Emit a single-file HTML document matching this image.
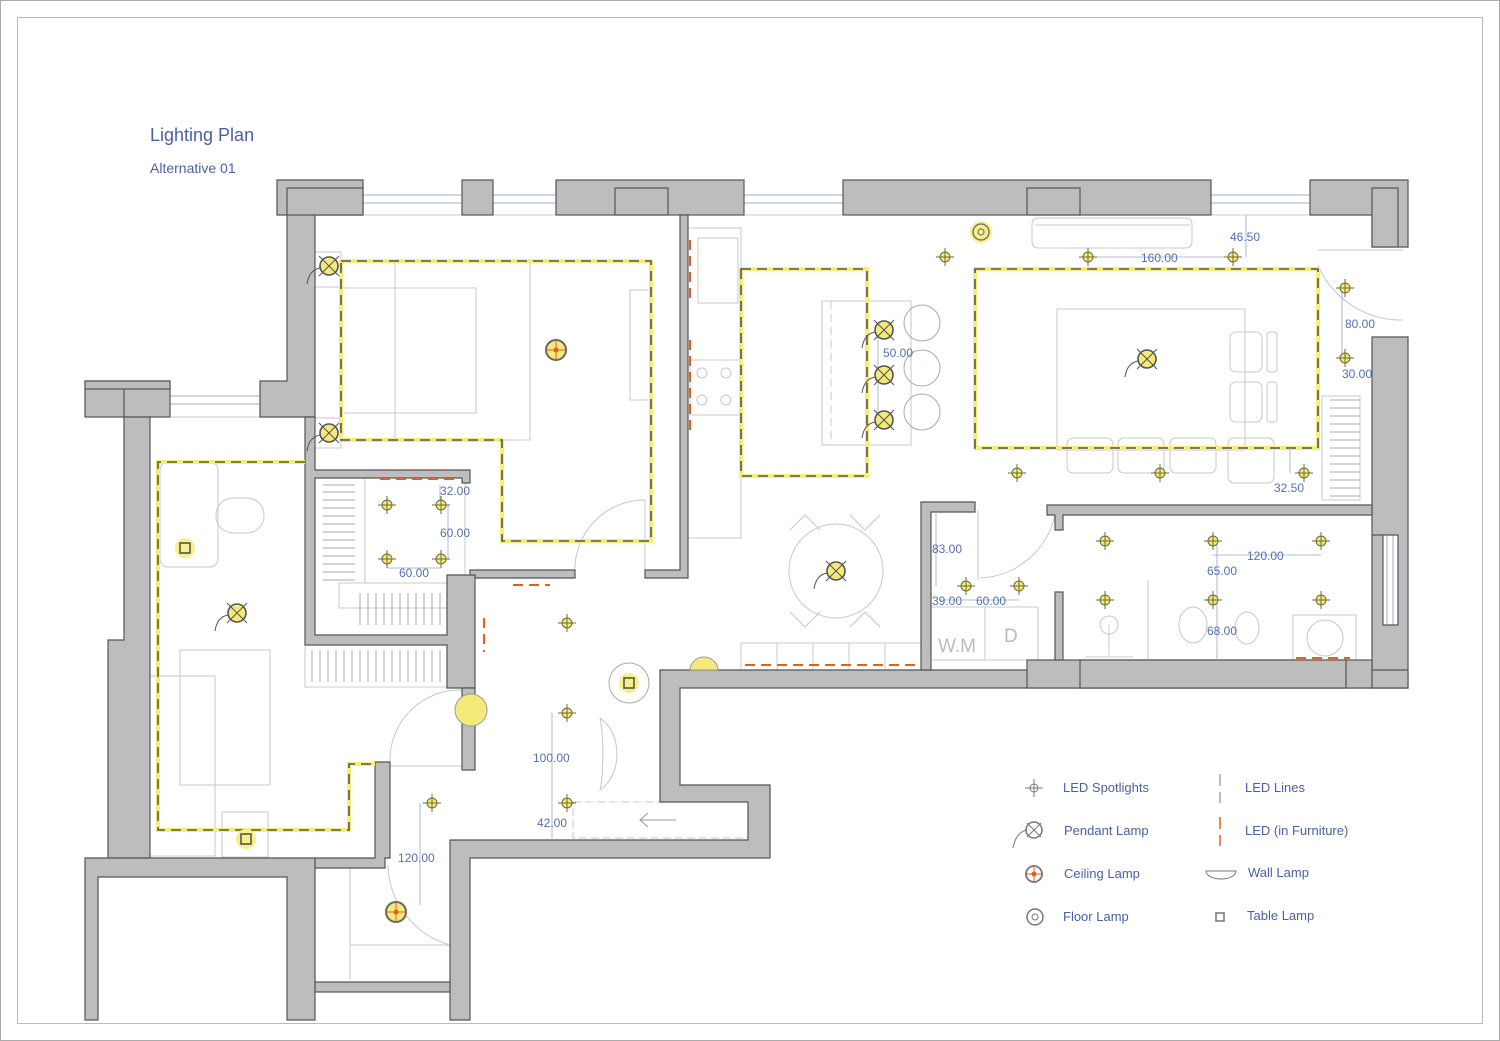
<!DOCTYPE html>
<html><head><meta charset="utf-8"><style>
html,body{margin:0;padding:0;background:#fff;}
svg{display:block;}
text{font-family:"Liberation Sans",Arial,sans-serif;}
</style></head><body>
<svg width="1500" height="1041" viewBox="0 0 1500 1041" xmlns="http://www.w3.org/2000/svg">
<defs>
<g id="spot"><circle r="5" fill="#f3ea7a" stroke="#6b6b3a" stroke-width="1"/><line x1="-9" y1="0" x2="9" y2="0" stroke="#6b6b3a" stroke-width="1"/><line x1="0" y1="-9" x2="0" y2="9" stroke="#6b6b3a" stroke-width="1"/></g>
<g id="pend"><circle r="9" fill="#f3ea7a" stroke="#555" stroke-width="1.6"/><line x1="-10" y1="-10" x2="10" y2="10" stroke="#555" stroke-width="1"/><line x1="10" y1="-10" x2="-10" y2="10" stroke="#555" stroke-width="1"/><path d="M-9,2 Q-20,4 -22,18" fill="none" stroke="#555" stroke-width="1"/></g>
<g id="ceil"><circle r="10" fill="#f3ea7a" stroke="#666" stroke-width="2"/><line x1="-10" y1="0" x2="10" y2="0" stroke="#e06020" stroke-width="1"/><line x1="0" y1="-10" x2="0" y2="10" stroke="#e06020" stroke-width="1"/><circle r="2.5" fill="#e06020"/></g>
<g id="tlamp"><circle r="10" fill="#f6ef8a"/><rect x="-5" y="-5" width="10" height="10" fill="none" stroke="#555" stroke-width="1.6"/></g>
</defs>
<rect x="0.5" y="0.5" width="1499" height="1040" fill="#fff" stroke="#aaa"/>
<rect x="17.5" y="17.5" width="1465" height="1006" fill="none" stroke="#bbb"/>

<text x="150" y="141" font-size="18" fill="#4a5fa8">Lighting Plan</text>
<text x="150" y="173" font-size="14" fill="#4a5fa8">Alternative 01</text>

<!-- windows -->
<g stroke="#9bb0cc" stroke-width="1" fill="none">
<line x1="363" y1="195" x2="462" y2="195"/><line x1="363" y1="203" x2="462" y2="203"/>
<line x1="493" y1="195" x2="556" y2="195"/><line x1="493" y1="203" x2="556" y2="203"/>
<line x1="744" y1="195" x2="843" y2="195"/><line x1="744" y1="203" x2="843" y2="203"/>
<line x1="1211" y1="195" x2="1310" y2="195"/><line x1="1211" y1="203" x2="1310" y2="203"/>
<line x1="170" y1="396" x2="260" y2="396"/><line x1="170" y1="404" x2="260" y2="404"/>
<line x1="1387" y1="535" x2="1387" y2="625"/><line x1="1393" y1="535" x2="1393" y2="625"/>
</g>
<g stroke="#ccc" stroke-width="1" fill="none">
<line x1="363" y1="215" x2="556" y2="215"/><line x1="744" y1="215" x2="843" y2="215"/><line x1="1211" y1="215" x2="1310" y2="215"/>
<line x1="170" y1="417" x2="260" y2="417"/>
</g>

<!-- furniture (light gray) -->
<g stroke="#c8c8c8" stroke-width="1" fill="none">
<rect x="341" y="261" width="189" height="179"/><rect x="341" y="288" width="135" height="125"/><line x1="395" y1="261" x2="395" y2="440"/>
<rect x="630" y="290" width="20" height="110"/>
<rect x="315" y="252" width="26" height="35"/><rect x="315" y="418" width="26" height="30"/>
<rect x="698" y="238" width="40" height="65"/><rect x="690" y="360" width="50" height="55"/>
<circle cx="702" cy="373" r="5"/><circle cx="726" cy="373" r="5"/><circle cx="702" cy="400" r="5"/><circle cx="726" cy="400" r="5"/>
<line x1="688" y1="215" x2="740" y2="215"/><rect x="688" y="228" width="53" height="310"/>
<rect x="822" y="301" width="89" height="144"/><line x1="831" y1="301" x2="831" y2="445" stroke-dasharray="8,5"/>
<circle cx="922" cy="323" r="18" stroke="#aaa"/><circle cx="922" cy="368" r="18" stroke="#aaa"/><circle cx="922" cy="412" r="18" stroke="#aaa"/>
<rect x="1057" y="309" width="188" height="141"/>
<rect x="1230" y="332" width="32" height="40" rx="6"/><rect x="1230" y="382" width="32" height="40" rx="6"/><rect x="1267" y="332" width="10" height="40" rx="3"/><rect x="1267" y="382" width="10" height="40" rx="3"/>
<rect x="1067" y="438" width="46" height="35" rx="6"/><rect x="1118" y="438" width="46" height="35" rx="6"/><rect x="1170" y="438" width="46" height="35" rx="6"/><rect x="1228" y="438" width="46" height="45" rx="6"/>
<rect x="1032" y="218" width="160" height="30" rx="6"/><line x1="1035" y1="225" x2="1190" y2="225"/>
<circle cx="836" cy="571" r="47"/>
<path d="M790,530 l15,-15 l15,15 M850,515 l15,15 l15,-15 M790,612 l15,15 l15,-15 M850,627 l15,-15 l15,15"/>
<rect x="741" y="643" width="180" height="27"/><line x1="777" y1="643" x2="777" y2="670"/><line x1="813" y1="643" x2="813" y2="670"/><line x1="849" y1="643" x2="849" y2="670"/><line x1="885" y1="643" x2="885" y2="670"/>
<rect x="931" y="607" width="54" height="53"/><rect x="985" y="607" width="53" height="53"/>
<rect x="1293" y="615" width="63" height="45"/><circle cx="1325" cy="638" r="18"/>
<ellipse cx="1193" cy="625" rx="14" ry="18"/><ellipse cx="1247" cy="628" rx="12" ry="16"/><line x1="1148" y1="580" x2="1148" y2="660"/>
<circle cx="1109" cy="625" r="9"/><line x1="1109" y1="625" x2="1109" y2="655"/><line x1="1085" y1="657" x2="1133" y2="657"/>
<rect x="216" y="498" width="48" height="35" rx="17"/>
<rect x="160" y="462" width="58" height="105" rx="8"/>
<rect x="180" y="650" width="90" height="135"/><rect x="133" y="676" width="82" height="180"/>
<rect x="222" y="812" width="46" height="45"/>
<rect x="365" y="478" width="100" height="105"/>
<rect x="305" y="643" width="142" height="44"/>
<rect x="339" y="583" width="126" height="25"/>
<path d="M600,718 a30,40 0 0 1 0,72 a 5,40 0 0 0 0,-72"/>
<circle cx="629" cy="683" r="20" stroke="#aaa"/>
<rect x="573" y="802" width="175" height="36" stroke-dasharray="8,4"/>
<line x1="640" y1="820" x2="676" y2="820" stroke="#999"/><path d="M648,813 l-8,7 l8,7" stroke="#999"/>
<line x1="350" y1="868" x2="350" y2="980"/><line x1="350" y1="945" x2="450" y2="945"/>
<path d="M575,575 a70,70 0 0 1 70,-75 M645,500 l0,75" />
<path d="M462,690 a70,70 0 0 0 -72,72 M390,766 l72,0"/>
<path d="M450,945 a85,85 0 0 1 -62,-80"/>
<path d="M1055,515 a80,80 0 0 1 -75,63 M978,510 l0,70" />
<path d="M1318,265 a90,90 0 0 0 85,55 M1318,250 l85,0" />
<rect x="1322" y="396" width="38" height="104"/>
</g>
<!-- wardrobe hatches -->
<g stroke="#aaa" stroke-width="1" fill="none">
<path d="M323,485h32M323,492h32M323,500h32M323,508h32M323,516h32M323,524h32M323,532h32M323,540h32M323,548h32M323,556h32M323,564h32M323,572h32M323,580h32"/>
<path d="M360,593v32M368,593v32M376,593v32M384,593v32M392,593v32M400,593v32M408,593v32M416,593v32M424,593v32M432,593v32M440,593v32M448,593v32M456,593v32"/>
<path d="M312,650v32M320,650v32M328,650v32M336,650v32M344,650v32M352,650v32M360,650v32M368,650v32M376,650v32M384,650v32M392,650v32M400,650v32M408,650v32M416,650v32M424,650v32M432,650v32M440,650v32"/>
<path d="M1330,400h30M1330,408h30M1330,416h30M1330,424h30M1330,432h30M1330,440h30M1330,448h30M1330,456h30M1330,464h30M1330,472h30M1330,480h30M1330,488h30M1330,496h30"/>
</g>

<!-- walls -->
<g fill="#bdbdbd" stroke="#555" stroke-width="1.2">
<path d="M277,180H363V215H315V417H260V381H287V215H277Z"/>
<rect x="287" y="188" width="76" height="27"/>
<rect x="462" y="180" width="31" height="35"/>
<rect x="556" y="180" width="188" height="35"/><rect x="615" y="188" width="53" height="27"/>
<rect x="843" y="180" width="368" height="35"/><rect x="1027" y="188" width="53" height="27"/>
<path d="M1310,180H1408V247H1372V215H1310Z"/><rect x="1372" y="188" width="26" height="59"/>
<path d="M1372,337H1408V688H1372V535H1383V625H1398V535H1372Z"/>
<rect x="85" y="381" width="85" height="36"/><rect x="85" y="381" width="85" height="8"/><line x1="124" y1="389" x2="124" y2="417"/>
<path d="M124,417H150V858H108V640H124Z"/>
<path d="M85,858H315V1020H287V877H98V1020H85Z"/>
<path d="M305,417H315V470H470V483H462V478H315V635H447V575H475V688H447V645H305Z"/>
<path d="M470,570H575V578H475V575H470Z"/>
<path d="M680,215H688V578H645V570H680Z"/>
<path d="M462,688H475V770H462Z"/>
<path d="M375,762H390V858H385V868H315V858H375Z"/>
<path d="M660,670H1408V688H680V785H770V858H470V1020H450V840H748V802H660Z"/>
<path d="M921,502H975V512H931V670H921Z"/>
<path d="M1047,505H1372V515H1063V530H1055V515H1047Z"/>
<rect x="1027" y="660" width="345" height="28"/><rect x="1080" y="660" width="266" height="28"/>
<rect x="1055" y="592" width="8" height="68"/>
<rect x="315" y="982" width="135" height="10"/>
</g>

<!-- LED lines in furniture -->
<g stroke="#e06020" stroke-width="2" stroke-dasharray="10,6" fill="none">
<line x1="380" y1="479" x2="455" y2="479"/>
<line x1="690" y1="240" x2="690" y2="300"/><line x1="690" y1="340" x2="690" y2="430"/>
<line x1="513" y1="585" x2="550" y2="585"/>
<line x1="484" y1="618" x2="484" y2="652"/>
<line x1="745" y1="665" x2="915" y2="665"/>
<line x1="1296" y1="658" x2="1350" y2="658"/>
</g>

<!-- LED dashed boxes -->
<g fill="none">
<g stroke="#f5ee70" stroke-width="4">
<path d="M341,261H651V541H502V440H341Z"/>
<rect x="741" y="269" width="126" height="207"/>
<rect x="975" y="269" width="343" height="179"/>
<path d="M305,462H158V830H349V764H375"/>
</g>
<g stroke="#555" stroke-width="1.6" stroke-dasharray="10,6">
<path d="M341,261H651V541H502V440H341Z"/>
<rect x="741" y="269" width="126" height="207"/>
<rect x="975" y="269" width="343" height="179"/>
<path d="M305,462H158V830H349V764H375"/>
</g>
</g>

<!-- dimension lines -->
<g stroke="#9aa6c8" stroke-width="0.8" fill="none">
<line x1="1088" y1="257" x2="1233" y2="257"/><line x1="1246" y1="215" x2="1246" y2="257"/>
<line x1="1342" y1="288" x2="1342" y2="358"/><line x1="1290" y1="448" x2="1290" y2="473"/>
<line x1="878" y1="330" x2="878" y2="420"/>
<line x1="440" y1="485" x2="440" y2="505"/><line x1="448" y1="505" x2="448" y2="559"/><line x1="387" y1="568" x2="441" y2="568"/>
<line x1="936" y1="512" x2="936" y2="586"/><line x1="940" y1="600" x2="1019" y2="600"/>
<line x1="1213" y1="555" x2="1321" y2="555"/><line x1="1217" y1="541" x2="1217" y2="660"/>
<line x1="552" y1="713" x2="552" y2="803"/><line x1="552" y1="803" x2="552" y2="840"/>
<line x1="420" y1="803" x2="420" y2="905"/>
</g>

<!-- dimension labels -->
<g font-size="12" fill="#5470b0">
<text x="1230" y="241">46.50</text><text x="1141" y="262">160.00</text>
<text x="1345" y="328">80.00</text><text x="1342" y="378">30.00</text><text x="1274" y="492">32.50</text>
<text x="883" y="357">50.00</text>
<text x="440" y="495">32.00</text><text x="440" y="537">60.00</text><text x="399" y="577">60.00</text>
<text x="932" y="553">83.00</text><text x="932" y="605">39.00</text><text x="976" y="605">60.00</text>
<text x="1247" y="560">120.00</text><text x="1207" y="575">65.00</text><text x="1207" y="635">68.00</text>
<text x="533" y="762">100.00</text><text x="537" y="827">42.00</text><text x="398" y="862">120.00</text>
</g>
<text x="938" y="652" font-size="19" fill="#bbb">W.M</text>
<text x="1004" y="642" font-size="19" fill="#bbb">D</text>

<!-- lamps -->
<use href="#pend" x="329" y="266"/><use href="#pend" x="329" y="433"/><use href="#pend" x="237" y="613"/>
<use href="#pend" x="884" y="330"/><use href="#pend" x="884" y="375"/><use href="#pend" x="884" y="420"/>
<use href="#pend" x="1147" y="359"/><use href="#pend" x="836" y="571"/>
<use href="#ceil" x="556" y="350"/><use href="#ceil" x="396" y="912"/>
<circle cx="981" cy="232" r="11" fill="#f6ef8a"/><circle cx="981" cy="232" r="8" fill="none" stroke="#777" stroke-width="1.5"/><circle cx="981" cy="232" r="3" fill="none" stroke="#777" stroke-width="1.2"/>
<use href="#tlamp" x="185" y="548"/><use href="#tlamp" x="246" y="839"/><use href="#tlamp" x="629" y="683"/>
<path d="M690,670 a14,13 0 0 1 28,0Z" fill="#f3ea7a" stroke="#999"/>
<circle cx="471" cy="710" r="16" fill="#f3ea7a" stroke="#999"/>
<g>
<use href="#spot" x="945" y="257"/><use href="#spot" x="1088" y="257"/><use href="#spot" x="1233" y="257"/>
<use href="#spot" x="1345" y="288"/><use href="#spot" x="1345" y="358"/>
<use href="#spot" x="1017" y="473"/><use href="#spot" x="1160" y="473"/><use href="#spot" x="1304" y="473"/>
<use href="#spot" x="387" y="505"/><use href="#spot" x="441" y="505"/><use href="#spot" x="387" y="559"/><use href="#spot" x="441" y="559"/>
<use href="#spot" x="567" y="623"/><use href="#spot" x="567" y="713"/><use href="#spot" x="567" y="803"/><use href="#spot" x="432" y="803"/>
<use href="#spot" x="1105" y="541"/><use href="#spot" x="1213" y="541"/><use href="#spot" x="1321" y="541"/>
<use href="#spot" x="1105" y="600"/><use href="#spot" x="1213" y="600"/><use href="#spot" x="1321" y="600"/>
<use href="#spot" x="966" y="586"/><use href="#spot" x="1019" y="586"/>
</g>

<!-- legend -->
<g font-size="13" fill="#4a5fa8">
<text x="1063" y="792">LED Spotlights</text>
<text x="1064" y="835">Pendant Lamp</text>
<text x="1064" y="878">Ceiling Lamp</text>
<text x="1063" y="921">Floor Lamp</text>
<text x="1245" y="792">LED Lines</text>
<text x="1245" y="835">LED (in Furniture)</text>
<text x="1248" y="877">Wall Lamp</text>
<text x="1247" y="920">Table Lamp</text>
</g>
<g stroke="#777" fill="none">
<circle cx="1034" cy="788" r="4"/><line x1="1025" y1="788" x2="1043" y2="788"/><line x1="1034" y1="779" x2="1034" y2="797"/>
<circle cx="1034" cy="830" r="8" stroke-width="1.5"/><line x1="1027" y1="823" x2="1041" y2="837"/><line x1="1041" y1="823" x2="1027" y2="837"/><path d="M1027,830 Q1016,832 1013,848"/>
<circle cx="1034" cy="874" r="8" stroke-width="1.8"/>
<circle cx="1035" cy="917" r="8" stroke-width="1.5"/><circle cx="1035" cy="917" r="3"/>
<line x1="1220" y1="774" x2="1220" y2="786"/><line x1="1220" y1="792" x2="1220" y2="803"/>
<path d="M1206,871 h30 a15,8 0 0 1 -30,0Z"/>
<rect x="1216" y="913" width="8" height="8" stroke-width="1.5"/>
</g>
<g stroke="#e06020">
<line x1="1025" y1="874" x2="1043" y2="874"/><line x1="1034" y1="865" x2="1034" y2="883"/>
<line x1="1220" y1="817" x2="1220" y2="829" stroke-width="1.5"/><line x1="1220" y1="835" x2="1220" y2="846" stroke-width="1.5"/>
</g>
<circle cx="1034" cy="874" r="2.5" fill="#e06020"/>
</svg>
</body></html>
